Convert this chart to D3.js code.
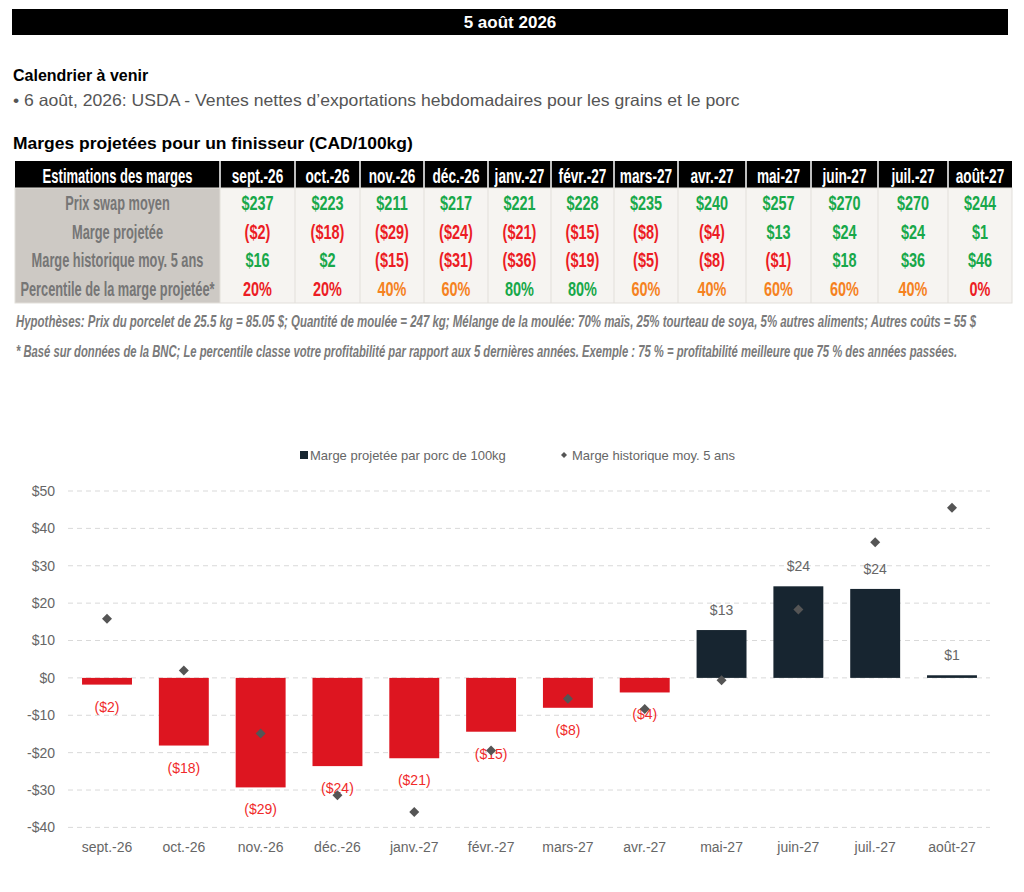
<!DOCTYPE html>
<html><head><meta charset="utf-8">
<script src="https://cdn.jsdelivr.net/npm/d3@7/dist/d3.min.js"></script>
<style>body{margin:0;background:#fff}svg{display:block}</style>
</head><body>
<script>
const months = ["sept.-26","oct.-26","nov.-26","déc.-26","janv.-27","févr.-27","mars-27","avr.-27","mai-27","juin-27","juil.-27","août-27"];
const swapPrice = [237,223,211,217,221,228,235,240,257,270,270,244];
const projMargin = [-2,-18,-29,-24,-21,-15,-8,-4,13,24,24,1];
const histMargin = [16,2,-15,-31,-36,-19,-5,-8,-1,18,36,46];
const percentile = [20,20,40,60,80,80,60,40,60,60,40,0];
const rowLabels = ["Prix swap moyen","Marge projetée","Marge historique moy. 5 ans","Percentile de la marge projetée*"];
const barValues = [-1.8,-18.1,-29.3,-23.6,-21.5,-14.4,-8.0,-3.9,12.8,24.5,23.8,0.7];
const histPoints = [15.8,2.0,-14.9,-31.4,-35.9,-19.4,-5.6,-8.3,-0.6,18.3,36.3,45.5];
const yTicks = [-40,-30,-20,-10,0,10,20,30,40,50];
const legendLabels = ["Marge projetée par porc de 100kg","Marge historique moy. 5 ans"];

const W=1024,H=892;
const svg=d3.select("body").append("svg").attr("width",W).attr("height",H);
const SANS="'Liberation Sans', Arial, Helvetica, sans-serif";

// text fitted to a width with a horizontal scale
function fitText(x,y,txt,width,attrs){
  const t=svg.append("text").attr("font-family",SANS).text(txt);
  Object.entries(attrs).forEach(([k,v])=>t.attr(k,v));
  const len=t.node().getComputedTextLength();
  t.attr("transform",`translate(${x},${y}) scale(${width/len},1)`);
  return t;
}

// header bar
svg.append("rect").attr("x",12).attr("y",9).attr("width",996).attr("height",26).attr("fill","#000");
svg.append("text").attr("x",510).attr("y",28).attr("text-anchor","middle").attr("fill","#fff")
  .attr("font-family",SANS).attr("font-weight","bold").attr("font-size",17).text("5 août 2026");

svg.append("text").attr("x",13).attr("y",81).attr("font-family",SANS).attr("font-weight","bold").attr("font-size",16).attr("fill","#000").text("Calendrier à venir");
fitText(13,106,"• 6 août, 2026: USDA - Ventes nettes d’exportations hebdomadaires pour les grains et le porc",727,{"font-size":16.5,"fill":"#555"});
fitText(13,149,"Marges projetées pour un finisseur (CAD/100kg)",400,{"font-size":16.5,"font-weight":"bold","fill":"#000"});

// table
const colEdges=[15,220,295,360,424,488,551,614,678,746,811,878,948,1012];
const tTop=161, hdrH=27, rowH=28.75;
const tbl=svg.append("g");
function ctext(g,x,y,txt,opts){
  g.append("text").attr("transform",`translate(${x},${y}) scale(${opts.sx},1)`)
   .attr("text-anchor","middle").attr("font-family",SANS).attr("font-weight","bold")
   .attr("font-size",opts.size).attr("fill",opts.fill).text(txt);
}
tbl.append("rect").attr("x",colEdges[0]).attr("y",tTop).attr("width",colEdges[13]-colEdges[0]).attr("height",hdrH).attr("fill","#000");
tbl.append("rect").attr("x",colEdges[0]).attr("y",tTop+hdrH).attr("width",colEdges[1]-colEdges[0]).attr("height",rowH*4).attr("fill","#cdc9c4");
tbl.append("rect").attr("x",colEdges[1]).attr("y",tTop+hdrH).attr("width",colEdges[13]-colEdges[1]).attr("height",rowH*4).attr("fill","#f6f4f1");
for(let i=1;i<13;i++){
  tbl.append("line").attr("x1",colEdges[i]).attr("x2",colEdges[i]).attr("y1",tTop).attr("y2",tTop+hdrH).attr("stroke","#fff").attr("stroke-width",1.5);
  tbl.append("line").attr("x1",colEdges[i]).attr("x2",colEdges[i]).attr("y1",tTop+hdrH).attr("y2",tTop+hdrH+rowH*4).attr("stroke","#e2dfda").attr("stroke-width",1);
}
tbl.append("rect").attr("x",colEdges[0]).attr("y",tTop+hdrH).attr("width",colEdges[13]-colEdges[0]).attr("height",rowH*4).attr("fill","none").attr("stroke","#e2dfda");
ctext(tbl,(colEdges[0]+colEdges[1])/2,tTop+22,"Estimations des marges",{fill:"#fff",sx:0.62,size:21});
months.forEach((m,i)=>ctext(tbl,(colEdges[i+1]+colEdges[i+2])/2,tTop+22,m,{fill:"#fff",sx:0.65,size:21}));
const GREEN="#18a84a",RED="#ec1c24",ORANGE="#f5821f";
const fmt=v=>v<0?`($${-v})`:`$${v}`;
const rows=[
  swapPrice.map(v=>({t:`$${v}`,c:GREEN})),
  projMargin.map(v=>({t:fmt(v),c:v<0?RED:GREEN})),
  histMargin.map(v=>({t:fmt(v),c:v<0?RED:GREEN})),
  percentile.map(v=>({t:`${v}%`,c:v<=20?RED:(v<=60?ORANGE:GREEN)}))
];
rows.forEach((r,ri)=>{
  const cy=tTop+hdrH+rowH*ri+rowH/2+7.5;
  ctext(tbl,(colEdges[0]+colEdges[1])/2,cy,rowLabels[ri],{fill:"#767676",sx:0.64,size:20});
  r.forEach((c,i)=>ctext(tbl,(colEdges[i+1]+colEdges[i+2])/2,cy,c.t,{fill:c.c,sx:0.69,size:21}));
});
// notes
fitText(16,327,"Hypothèses: Prix du porcelet de 25.5 kg = 85.05 $; Quantité de moulée = 247 kg; Mélange de la moulée: 70% maïs, 25% tourteau de soya, 5% autres aliments; Autres coûts = 55 $",961,
  {"font-size":16.5,"font-style":"italic","font-weight":"bold","fill":"#7a7a7a"});
fitText(16,357,"* Basé sur données de la BNC; Le percentile classe votre profitabilité par rapport aux 5 dernières années. Exemple : 75 % = profitabilité meilleure que 75 % des années passées.",942,
  {"font-size":16.5,"font-style":"italic","font-weight":"bold","fill":"#7a7a7a"});

// chart
const x=d3.scaleBand().domain(months).range([68.6,990.4]).paddingInner(0.35).paddingOuter(0.175);
const y=d3.scaleLinear().domain([-40,50]).range([827.4,491]);
const cg=svg.append("g");
cg.selectAll("line.grid").data(yTicks).join("line").attr("class","grid")
  .attr("x1",68).attr("x2",990).attr("y1",d=>y(d)).attr("y2",d=>y(d))
  .attr("stroke","#d9d9d9").attr("stroke-width",1).attr("stroke-dasharray","5,4");
const yAxis=d3.axisLeft(y).tickValues(yTicks).tickSize(0).tickPadding(0).tickFormat(d=>d<0?`-$${-d}`:`$${d}`);
const ya=cg.append("g").attr("transform","translate(55,0)").call(yAxis);
ya.select(".domain").remove();
ya.selectAll("text").attr("font-family",SANS).attr("font-size",14).attr("fill","#666");
const xAxis=d3.axisBottom(x).tickSize(0).tickPadding(0);
const xa=cg.append("g").attr("transform","translate(0,842)").call(xAxis);
xa.select(".domain").remove();
xa.selectAll("text").attr("font-family",SANS).attr("font-size",14).attr("fill","#666").attr("dy","0.71em");

const BAR_RED="#dd1520",BAR_DARK="#172530";
cg.selectAll("rect.bar").data(barValues).join("rect").attr("class","bar")
  .attr("x",(d,i)=>x(months[i])).attr("width",x.bandwidth())
  .attr("y",d=>y(Math.max(0,d))).attr("height",d=>Math.abs(y(d)-y(0)))
  .attr("fill",d=>d<0?BAR_RED:BAR_DARK);
cg.selectAll("text.lbl").data(barValues).join("text").attr("class","lbl")
  .attr("x",(d,i)=>x(months[i])+x.bandwidth()/2)
  .attr("y",d=>d<0?y(d)+27:y(d)-15)
  .attr("text-anchor","middle").attr("font-family",SANS).attr("font-size",14)
  .attr("fill",d=>d<0?"#f02a2a":"#666")
  .text((d,i)=>fmt(projMargin[i]));
cg.selectAll("path.dia").data(histPoints).join("path").attr("class","dia")
  .attr("transform",(d,i)=>`translate(${x(months[i])+x.bandwidth()/2},${y(d)})`)
  .attr("d","M0,-5L5,0L0,5L-5,0Z").attr("fill","#555");

// legend
const lg=svg.append("g");
lg.append("rect").attr("x",300).attr("y",451).attr("width",8).attr("height",8).attr("fill",BAR_DARK);
lg.append("text").attr("x",310).attr("y",459.5).attr("font-family",SANS).attr("font-size",13).attr("fill","#666").text(legendLabels[0]);
lg.append("path").attr("transform","translate(564,455)").attr("d","M0,-3L3,0L0,3L-3,0Z").attr("fill","#555");
lg.append("text").attr("x",572).attr("y",459.5).attr("font-family",SANS).attr("font-size",13).attr("fill","#666").text(legendLabels[1]);
</script>
</body></html>
